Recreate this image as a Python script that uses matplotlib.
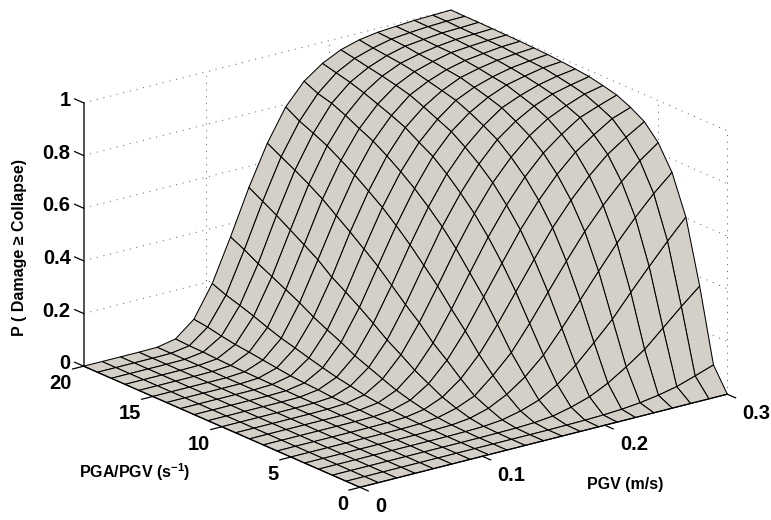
import numpy as np
import matplotlib
matplotlib.use("Agg")
import matplotlib.pyplot as plt
from mpl_toolkits.mplot3d import proj3d

plt.rcParams['font.family'] = ['Liberation Sans', 'DejaVu Sans']
plt.rcParams['font.weight'] = 'bold'
plt.rcParams['mathtext.fontset'] = 'custom'
plt.rcParams['mathtext.bf'] = 'Liberation Sans:bold'
plt.rcParams['mathtext.rm'] = 'Liberation Sans:bold'

pgv = [0, 0.015, 0.03, 0.045, 0.06, 0.075, 0.09, 0.105, 0.12, 0.135, 0.15,
       0.165, 0.18, 0.195, 0.21, 0.225, 0.24, 0.255, 0.27, 0.285, 0.3]
ratio = [0, 1, 2, 3, 4, 5, 6, 7, 8, 9, 10, 11, 12, 13, 14, 15, 16, 17, 18, 19, 20]

# one row per PGA/PGV value, columns follow pgv
p_collapse = [
    [0, 0, 0, 0, 0, 0, 0, 0, 0, 0, 0, 0, 0, 0, 0, 0, 0, 0, 0, 0, 0],
    [0, 0, 0, 0, 0, 0, 0, 0, 0, 0, 0, 0, .001, .002, .004, .008, .015, .026, .041, .064, .088],
    [0, 0, 0, 0, 0, 0, 0, 0, 0, .001, .002, .005, .012, .028, .050, .084, .128, .177, .241, .305, .365],
    [0, 0, 0, 0, 0, 0, 0, 0, .001, .003, .010, .026, .050, .091, .147, .215, .286, .370, .451, .530, .604],
    [0, 0, 0, 0, 0, 0, 0, .001, .003, .011, .031, .066, .115, .180, .264, .354, .445, .534, .614, .687, .750],
    [0, 0, 0, 0, 0, 0, 0, .002, .008, .026, .055, .115, .184, .277, .378, .478, .573, .655, .727, .789, .840],
    [0, 0, 0, 0, 0, 0, .001, .004, .016, .045, .097, .172, .268, .374, .480, .582, .669, .744, .808, .855, .897],
    [0, 0, 0, 0, 0, 0, .001, .008, .028, .073, .144, .238, .349, .460, .569, .663, .744, .811, .859, .903, .928],
    [0, 0, 0, 0, 0, 0, .003, .013, .043, .101, .187, .298, .418, .536, .640, .729, .802, .856, .902, .928, .952],
    [0, 0, 0, 0, 0, .001, .005, .020, .063, .137, .241, .362, .487, .602, .702, .781, .845, .892, .924, .950, .965],
    [0, 0, 0, 0, 0, .001, .006, .031, .084, .170, .287, .418, .547, .657, .750, .825, .877, .917, .945, .962, .976],
    [0, 0, 0, 0, 0, .001, .011, .041, .105, .210, .337, .473, .599, .707, .791, .855, .905, .934, .957, .972, .982],
    [0, 0, 0, 0, 0, .002, .014, .054, .133, .248, .386, .523, .646, .750, .827, .882, .922, .951, .967, .981, .987],
    [0, 0, 0, 0, 0, .003, .018, .068, .157, .283, .429, .569, .687, .781, .851, .905, .937, .959, .975, .984, .991],
    [0, 0, 0, 0, 0, .004, .025, .083, .183, .317, .471, .608, .724, .814, .875, .919, .951, .968, .981, .988, .993],
    [0, 0, 0, 0, 0, .005, .032, .097, .214, .360, .510, .646, .757, .837, .897, .932, .958, .975, .984, .992, .995],
    [0, 0, 0, 0, .001, .006, .039, .115, .241, .394, .550, .679, .782, .857, .911, .945, .966, .982, .988, .993, .996],
    [0, 0, 0, 0, .001, .008, .045, .135, .268, .427, .583, .711, .809, .877, .923, .954, .971, .983, .991, .994, .997],
    [0, 0, 0, 0, .001, .011, .054, .153, .294, .460, .613, .736, .832, .894, .933, .960, .978, .986, .993, .995, .998],
    [0, 0, 0, 0, .001, .012, .065, .169, .324, .490, .641, .759, .846, .907, .944, .966, .982, .989, .994, .997, .998],
    [0, 0, 0, 0, .001, .015, .072, .190, .350, .520, .670, .790, .870, .920, .954, .974, .985, .990, .995, .997, .999],
]

pgv_ticks = [0, 0.1, 0.2, 0.3]
ratio_ticks = [0, 5, 10, 15, 20]
p_ticks = [0, 0.2, 0.4, 0.6, 0.8, 1]
pgv_labels = ['0', '0.1', '0.2', '0.3']
ratio_labels = ['0', '5', '10', '15', '20']
p_labels = ['0', '0.2', '0.4', '0.6', '0.8', '1']

W, H = 771, 520
fig = plt.figure(figsize=(W / 100, H / 100), dpi=100)
# 3d axes bigger than the canvas so nothing gets cut at the axes box
ax = fig.add_axes([53.2 / W, -80.8 / H, 686 / W, 686 / H], projection='3d', proj_type='ortho')
ax.computed_zorder = False
ax.set_box_aspect((461, 456, 279))
ax.view_init(elev=19.47, azim=-127.25)
ax.set_xlim(0, 0.3, view_margin=0)
ax.set_ylim(0, 20, view_margin=0)
ax.set_zlim(0, 1, view_margin=0)
ax.set_autoscale_on(False)
ax.set_axis_off()

grid_style = dict(color='#555555', lw=0.7, ls=(0, (1, 6)), zorder=1)
for z in p_ticks[1:]:
    ax.plot([0, 0.3], [20, 20], [z, z], **grid_style)
    ax.plot([0.3, 0.3], [20, 0], [z, z], **grid_style)
for x in pgv_ticks[1:]:
    ax.plot([x, x], [20, 20], [0, 1], **grid_style)
for y in ratio_ticks[:-1]:
    ax.plot([0.3, 0.3], [y, y], [0, 1], **grid_style)

X, Y = np.meshgrid(pgv, ratio)
ax.plot_surface(X, Y, np.array(p_collapse), rstride=1, cstride=1, color='#d4d0c8',
                edgecolor='black', linewidth=0.75, shade=False, zorder=2)

axis_style = dict(color='black', lw=0.9, zorder=3)
ax.plot([0, 0], [20, 20], [0, 1], color='#222222', lw=1.1, zorder=3)
ax.plot([0, 0.3], [0, 0], [0, 0], **axis_style)
ax.plot([0, 0], [0, 20], [0, 0], **axis_style)
for x in pgv_ticks:
    ax.plot([x, x], [0, -0.6], [0, 0], **axis_style)
for y in ratio_ticks:
    ax.plot([0, -0.009], [y, y], [0, 0], **axis_style)
for z in p_ticks:
    ax.plot([0, 0], [20, 20.65], [z, z], **axis_style)


def tick_text(x, y, z, s, dx, dy, ha):
    xp, yp, _ = proj3d.proj_transform(x, y, z, ax.get_proj())
    ax.annotate(s, (xp, yp), xytext=(dx, dy), textcoords='offset pixels', ha=ha, va='center',
                fontsize=14.5, fontweight='bold', annotation_clip=False, zorder=4)


for x, s in zip(pgv_ticks, pgv_labels):
    tick_text(x, 0, 0, s, 15, -19, 'left')
for y, s in zip(ratio_ticks, ratio_labels):
    tick_text(0, y, 0, s, -12, -17.5, 'right')
for z, s in zip(p_ticks, p_labels):
    tick_text(0, 20, z, s, -13, 2.5, 'right')

fig.text(625 / W, 1 - 484 / H, 'PGV (m/s)', fontsize=11.5, fontweight='bold', ha='center', va='center')
fig.text(135 / W, 1 - 472 / H, r'PGA/PGV (s$^{\mathbf{-1}}$)', fontsize=11.5, fontweight='bold', ha='center', va='center')
fig.text(20 / W, 1 - 247 / H, 'P ( Damage ≥ Collapse)', fontsize=11.5, fontweight='bold', rotation=90, ha='center', va='center')

fig.savefig('out.png', dpi=100)
